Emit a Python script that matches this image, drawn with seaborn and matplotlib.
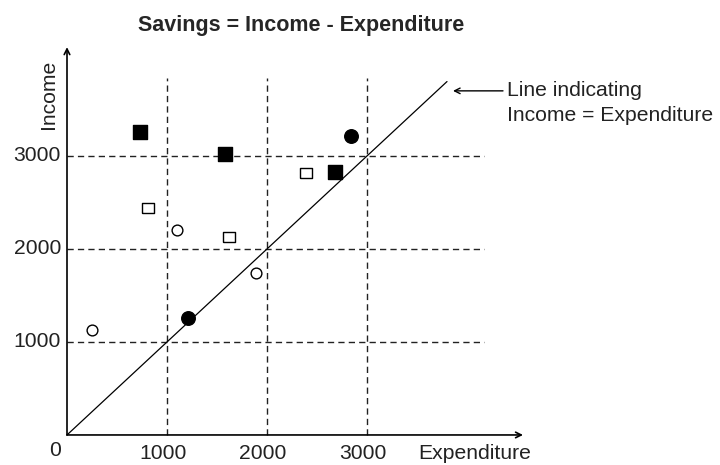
import numpy as np
import pandas as pd
import seaborn as sns
import matplotlib.pyplot as plt

# values (Expenditure, Income)
grid_values = [1000, 2000, 3000]
tick_labels = ["1000", "2000", "3000"]

filled_sq_x = [730, 1580, 2680]
filled_sq_y = [3260, 3020, 2830]
hollow_sq_x = [810, 1620, 2390]
hollow_sq_y = [2440, 2130, 2820]
filled_circ_x = [1210, 2840]
filled_circ_y = [1260, 3220]
hollow_circ_x = [250, 1100, 1890]
hollow_circ_y = [1130, 2200, 1740]

line_end = 3800

sns.set_style("white")
plt.rcParams['font.family'] = ['Liberation Sans', 'DejaVu Sans']

fig = plt.figure(figsize=(7.2, 4.65), dpi=100)
ax = fig.add_axes([0, 0, 1, 1])
ax.set_xlim(-670, 6530)
ax.set_ylim(-323, 4677)
ax.axis('off')

dash = (0, (4.5, 3))
for v in grid_values:
    ax.plot([v, v], [0, 3840], color='#222222', lw=1, linestyle=dash)
    ax.plot([0, 4170], [v, v], color='#222222', lw=1, linestyle=dash)

# income = expenditure line
sns.lineplot(x=[0, line_end], y=[0, line_end], color='black', lw=0.9, ax=ax)

# axes with arrow heads
ax.annotate("", xy=(4560, 0), xytext=(0, 0),
            arrowprops=dict(arrowstyle='->', color='black', lw=1.2, shrinkA=0, shrinkB=0))
ax.annotate("", xy=(0, 4170), xytext=(0, 0),
            arrowprops=dict(arrowstyle='->', color='black', lw=1.2, shrinkA=0, shrinkB=0))

# hollow squares are a bit wider than tall
wide_sq = [(-1.2, -1), (1.2, -1), (1.2, 1), (-1.2, 1), (-1.2, -1)]
groups = [
    (filled_sq_x, filled_sq_y, 's', 'black', 95),
    (hollow_sq_x, hollow_sq_y, wide_sq, 'white', 80),
    (filled_circ_x, filled_circ_y, 'o', 'black', 95),
    (hollow_circ_x, hollow_circ_y, 'o', 'white', 60),
]
for gx, gy, mk, fc, sz in groups:
    sns.scatterplot(x=gx, y=gy, marker=mk, s=sz, color=fc, edgecolor='black',
                    linewidth=1, ax=ax, zorder=5)

fs = 15.2
tc = '#222222'
for v, lab in zip(grid_values, tick_labels):
    ax.text(v - 40, -95, lab, ha='center', va='top', fontsize=fs, color=tc)
    ax.text(-60, v, lab, ha='right', va='center', fontsize=fs, color=tc)
ax.text(-60, -60, "0", ha='right', va='top', fontsize=fs, color=tc)
ax.text(3510, -95, "Expenditure", ha='left', va='top', fontsize=fs, color=tc)
ax.text(-190, 3660, "Income", ha='center', va='center', rotation=90, fontsize=fs, color=tc)

ax.text(2340, 4400, "Savings = Income - Expenditure", ha='center', va='center',
        fontsize=15.5, fontweight='bold')

ax.annotate("", xy=(3860, 3700), xytext=(4360, 3700),
            arrowprops=dict(arrowstyle='->', color='black', lw=1, shrinkA=0, shrinkB=0))
ax.text(4400, 3700, "Line indicating", ha='left', va='center', fontsize=fs, color=tc)
ax.text(4400, 3430, "Income = Expenditure", ha='left', va='center', fontsize=fs, color=tc)

fig.savefig("out.png", dpi=100)
